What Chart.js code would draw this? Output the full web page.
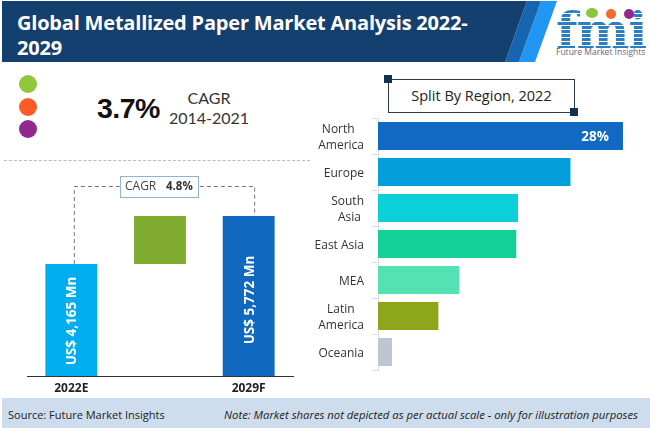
<!DOCTYPE html>
<html lang="en">
<head>
<meta charset="UTF-8">
<title>Global Metallized Paper Market Analysis</title>
<script src="https://cdn.jsdelivr.net/npm/chart.js"></script>
<style>
    html, body { margin: 0; padding: 0; background: #fff; }
    body { width: 650px; height: 428px; position: relative; overflow: hidden; font-family: "Open Sans", sans-serif; }
    .abs { position: absolute; }
    #title { left: 17px; top: 10px; width: 480px; color: #fff; font-weight: 700; font-size: 20px; line-height: 25px; letter-spacing: -0.2px; }
    .dot { position: absolute; left: 19px; width: 18px; height: 18px; border-radius: 50%; }
    #pct { left: 97px; top: 92px; font: 700 28.5px "Liberation Sans", sans-serif; color: #111; letter-spacing: -0.5px; }
    #cagr { left: 160px; top: 88px; width: 98px; text-align: center; font: 400 16px/20px Lato, sans-serif; color: #333; }
    #dash { left: 4px; top: 160px; width: 306px; border-top: 1px dashed #bbb; }
    #splitbox { left: 388px; top: 79px; width: 185px; height: 32px; border: 1px solid #2a3a4f; text-align: center; font: 400 14.5px/32px "Open Sans", sans-serif; color: #222; }
    .corner { position: absolute; width: 8px; height: 8px; background: #14304f; }
    #footer { left: 2px; top: 398px; width: 648px; height: 30px; background: #cedded; }
    #source { left: 8px; top: 407px; font-size: 11px; color: #222; }
    #note { right: 12px; top: 407px; font-size: 11.3px; font-style: italic; color: #222; }
    #leftWrap { left: 0; top: 170px; width: 320px; height: 230px; }
    #rightWrap { left: 300px; top: 112px; width: 350px; height: 264px; }
    canvas { display: block; }
    #fmi { left: 556px; top: 6px; font: 700 50px/50px "DejaVu Serif", serif; letter-spacing: -1px;
        background: repeating-linear-gradient(#2b7fc0 0 3px, #fff 3px 4px); -webkit-background-clip: text; background-clip: text; color: transparent; }
    #fmitag { left: 556px; top: 46px; font: 400 8.5px "Open Sans", sans-serif; color: #667; white-space: nowrap; }
</style>
</head>
<body>
    <svg class="abs" style="left:0;top:0" width="650" height="64">
        <polygon points="541,1 557,1 535,62 519,62" fill="#2196f3"/>
        <polygon points="527,1 541,1 519,62 505,62" fill="#1565b0"/>
        <polygon points="2,1 527,1 505,62 2,62" fill="#14406f"/>
    </svg>
    <div id="title" class="abs">Global Metallized Paper Market Analysis 2022-<br>2029</div>
    <div id="fmi" class="abs">fmi</div>
    <svg class="abs" style="left:0;top:0" width="650" height="64">
        <ellipse cx="592" cy="13" rx="6" ry="5" fill="#8cc63f"/>
        <circle cx="611" cy="14" r="5" fill="#f26a2e"/>
        <circle cx="629" cy="14" r="5" fill="#93278f"/>
    </svg>
    <div id="fmitag" class="abs">Future Market Insights</div>

    <div class="dot" style="top:75px;background:#92c73d"></div>
    <div class="dot" style="top:98px;background:#fb5c26"></div>
    <div class="dot" style="top:120px;background:#92278f"></div>
    <div id="pct" class="abs">3.7%</div>
    <div id="cagr" class="abs">CAGR<br>2014-2021</div>
    <div id="dash" class="abs"></div>

    <div id="splitbox" class="abs">Split By Region, 2022</div>
    <div class="corner" style="left:384px;top:75px"></div>
    <div class="corner" style="left:570px;top:108px"></div>

    <div id="leftWrap" class="abs"><canvas id="marketChart" width="320" height="230"></canvas></div>
    <div id="rightWrap" class="abs"><canvas id="regionChart" width="350" height="264"></canvas></div>

    <div id="footer" class="abs"></div>
    <div id="source" class="abs">Source: Future Market Insights</div>
    <div id="note" class="abs">Note: Market shares not depicted as per actual scale - only for illustration purposes</div>

    <script>
        const years = ['2022E', '', '2029F'];
        const marketValues = [4165, 5772];
        const marketTexts = ['US$ 4,165 Mn', 'US$ 5,772 Mn'];
        const cagrText = 'CAGR';
        const cagrValue = '4.8%';

        const regions = [['North   ', 'America'], 'Europe', ['South', ' Asia '], 'East Asia', 'MEA', ['Latin   ', 'America'], 'Oceania'];
        const regionShares = [28, 22, 16, 15.8, 9.3, 6.9, 1.6];
        const regionColors = ['#1169c4', '#039fdb', '#0bd0da', '#13d098', '#55e2b3', '#8ea61c', '#bfc5d2'];

        Chart.defaults.animation = false;

        // rotated labels and the dashed CAGR bracket, placed from the chart's own scales
        const marketOverlay = {
            id: 'marketOverlay',
            afterDatasetsDraw(chart) {
                const { ctx, scales: { x, y } } = chart;
                const lineY = 16.5;
                const x1 = x.getPixelForValue(0) + 3;
                const x2 = x.getPixelForValue(2) + 6;
                ctx.save();
                ctx.strokeStyle = '#777';
                ctx.lineWidth = 1;
                ctx.setLineDash([4, 3]);
                ctx.beginPath();
                ctx.moveTo(x1, y.getPixelForValue(marketValues[0]));
                ctx.lineTo(x1, lineY);
                ctx.lineTo(x2, lineY);
                ctx.lineTo(x2, y.getPixelForValue(marketValues[1]));
                ctx.stroke();
                ctx.setLineDash([]);

                // label box over the bracket
                ctx.fillStyle = '#fff';
                ctx.strokeStyle = '#8fb4d6';
                ctx.fillRect(120.5, 6.5, 78, 21);
                ctx.strokeRect(120.5, 6.5, 78, 21);
                ctx.textBaseline = 'middle';
                ctx.textAlign = 'left';
                ctx.fillStyle = '#444';
                ctx.font = '400 12px "Open Sans"';
                ctx.fillText(cagrText, 125, 17);
                ctx.fillStyle = '#333';
                ctx.font = '700 11.5px "Open Sans"';
                ctx.fillText(cagrValue, 166, 17);

                // values inside the two total bars
                ctx.fillStyle = '#fff';
                ctx.font = '700 13.5px "Open Sans"';
                ctx.textAlign = 'center';
                [[0, 0, 321], [2, 1, 300]].forEach(([idx, t, py]) => {
                    ctx.save();
                    ctx.translate(x.getPixelForValue(idx), py - 170);
                    ctx.rotate(-Math.PI / 2);
                    ctx.fillText(marketTexts[t], 0, 1);
                    ctx.restore();
                });
                ctx.restore();
            }
        };

        new Chart(document.getElementById('marketChart'), {
            type: 'bar',
            plugins: [marketOverlay],
            data: {
                labels: years,
                datasets: [{
                    data: [marketValues[0], [marketValues[0], marketValues[1]], marketValues[1]],
                    backgroundColor: ['#00aeef', '#7fab2e', '#1168c0'],
                    barPercentage: 0.76,
                    categoryPercentage: 0.77
                }]
            },
            options: {
                responsive: false,
                layout: { padding: { left: 27, right: 27, top: 6, bottom: 0 } },
                plugins: { legend: { display: false }, tooltip: { enabled: false } },
                scales: {
                    x: {
                        afterFit(axis) { axis.height = 24; },
                        grid: { display: false },
                        border: { color: '#333', width: 1 },
                        ticks: { color: '#222', font: { family: 'Open Sans', weight: '700', size: 12 }, padding: -3, maxRotation: 0 }
                    },
                    y: { display: false, min: 412, max: 7112 }
                }
            }
        });

        new Chart(document.getElementById('regionChart'), {
            type: 'bar',
            data: {
                labels: regions,
                datasets: [{
                    data: regionShares,
                    backgroundColor: regionColors,
                    barPercentage: 0.78,
                    categoryPercentage: 1
                }]
            },
            plugins: [{
                id: 'topShare',
                afterDatasetsDraw(chart) {
                    const { ctx, scales: { x, y } } = chart;
                    ctx.save();
                    ctx.fillStyle = '#fff';
                    ctx.font = '700 13.5px "Open Sans"';
                    ctx.textAlign = 'right';
                    ctx.textBaseline = 'middle';
                    ctx.fillText(regionShares[0] + '%', x.getPixelForValue(regionShares[0]) - 14, y.getPixelForValue(0) + 1);
                    ctx.restore();
                }
            }],
            options: {
                responsive: false,
                indexAxis: 'y',
                layout: { padding: { left: 0, right: 0, top: 6, bottom: 6 } },
                plugins: { legend: { display: false }, tooltip: { enabled: false } },
                scales: {
                    x: { display: false, min: 0, max: 31.09 },
                    y: {
                        afterFit(axis) { axis.width = 78; axis.paddingTop = 0; axis.paddingBottom = 0; },
                        grid: { drawOnChartArea: false, color: '#ddd', tickLength: 6 },
                        border: { color: '#ddd' },
                        ticks: { color: '#333', font: { family: 'Open Sans', size: 12, lineHeight: 1.33 }, padding: 8, labelOffset: 2, autoSkip: false }
                    }
                }
            }
        });
    </script>
</body>
</html>
